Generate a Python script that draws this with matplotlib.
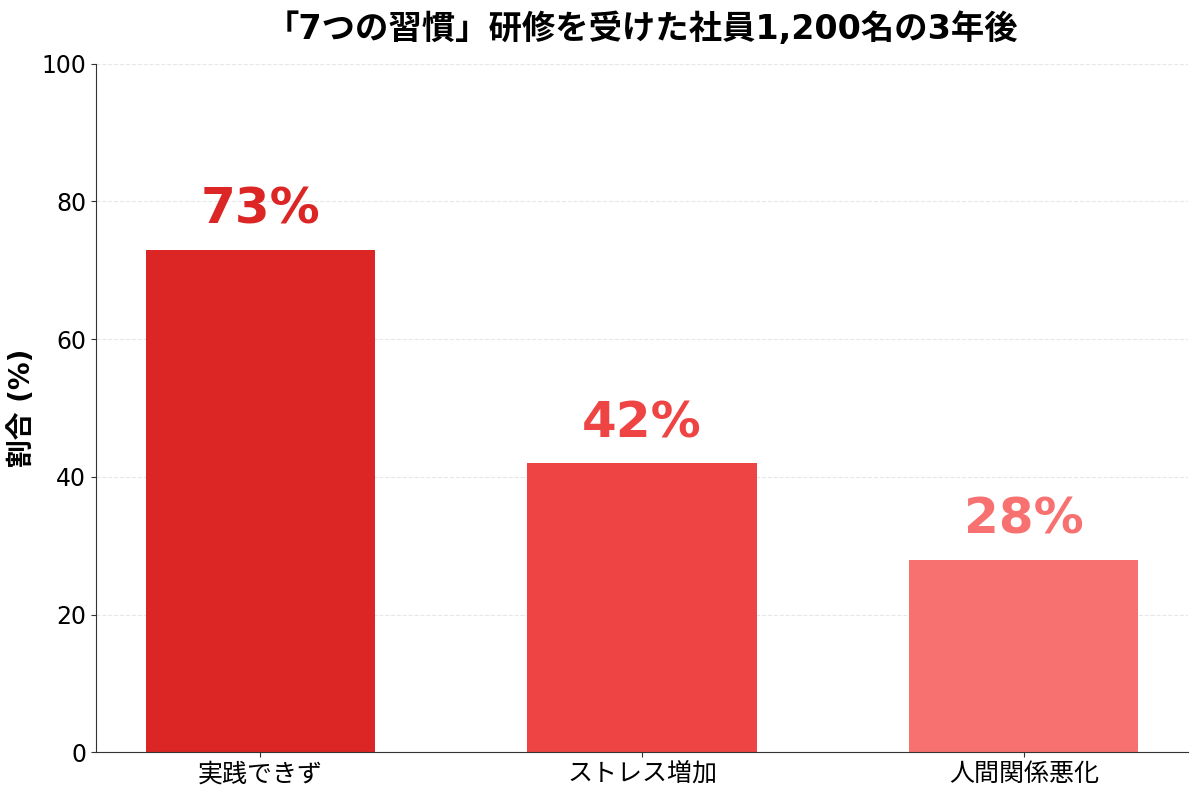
import matplotlib
matplotlib.use("Agg")
import matplotlib.pyplot as plt

plt.rcParams["font.family"] = ["DejaVu Sans", "Noto Sans CJK JP"]

categories = ["実践できず", "ストレス増加", "人間関係悪化"]
values = [73, 42, 28]
colors = ["#DC2626", "#EF4444", "#F87171"]
title = "「7つの習慣」研修を受けた社員1,200名の3年後"

fig, ax = plt.subplots(figsize=(12, 7.97), dpi=100)
bars = ax.bar(range(len(categories)), values, width=0.6, color=colors)

for bar, v, c in zip(bars, values, colors):
    ax.text(bar.get_x() + bar.get_width() / 2, v + 2.3, f"{v}%",
            ha="center", va="bottom", fontsize=36, fontweight="bold", color=c)

ax.set_xticks(range(len(categories)))
ax.set_xticklabels(categories)
ax.set_ylim(0, 100)
ax.set_ylabel("割合 (%)", fontsize=20, fontweight="bold")
ax.set_title(title, fontsize=24, fontweight="bold", pad=18)
ax.tick_params(axis="x", labelsize=18, color="#333333")
ax.tick_params(axis="y", labelsize=17, color="#333333")
ax.yaxis.grid(True, linestyle="--", alpha=0.3)
ax.set_axisbelow(True)
ax.spines["top"].set_visible(False)
ax.spines["right"].set_visible(False)
for s in ("left", "bottom"):
    ax.spines[s].set_color("#333333")

fig.subplots_adjust(left=0.08, right=0.99, top=0.92, bottom=0.056)
fig.savefig("out.png")
